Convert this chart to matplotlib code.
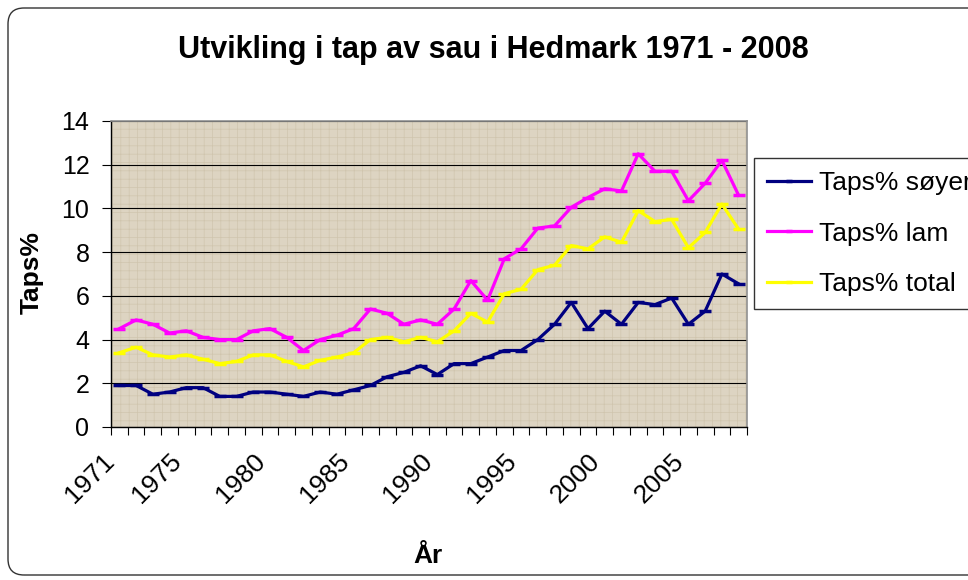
import matplotlib
matplotlib.use("Agg")
import matplotlib.pyplot as plt
from matplotlib.patches import FancyBboxPatch, Rectangle
from matplotlib.transforms import IdentityTransform

plt.rcParams['font.family'] = ['Liberation Sans', 'DejaVu Sans']
plt.rcParams['hatch.linewidth'] = 0.5

# data
years = list(range(1971, 2009))
soyer = [1.9, 1.9, 1.5, 1.6, 1.8, 1.8, 1.4, 1.4, 1.6, 1.6,
         1.5, 1.4, 1.6, 1.5, 1.7, 1.9, 2.3, 2.5, 2.8, 2.4,
         2.9, 2.9, 3.2, 3.5, 3.5, 4.0, 4.7, 5.7, 4.5, 5.3,
         4.7, 5.7, 5.6, 5.9, 4.7, 5.3, 7.0, 6.55]
lam = [4.5, 4.9, 4.7, 4.3, 4.4, 4.1, 4.0, 4.0, 4.4, 4.5,
       4.1, 3.5, 4.0, 4.2, 4.5, 5.4, 5.2, 4.7, 4.9, 4.7,
       5.4, 6.7, 5.8, 7.7, 8.15, 9.1, 9.2, 10.05, 10.5, 10.9,
       10.8, 12.5, 11.7, 11.7, 10.35, 11.15, 12.2, 10.6]
total = [3.4, 3.65, 3.3, 3.2, 3.3, 3.1, 2.9, 3.0, 3.3, 3.3,
         3.0, 2.75, 3.05, 3.2, 3.4, 4.0, 4.1, 3.9, 4.1, 3.9,
         4.4, 5.2, 4.8, 6.1, 6.3, 7.2, 7.4, 8.3, 8.15, 8.7,
         8.45, 9.9, 9.4, 9.5, 8.2, 8.9, 10.2, 9.05]
label_years = [1971, 1975, 1980, 1985, 1990, 1995, 2000, 2005]
names = ["Taps% søyer", "Taps% lam", "Taps% total"]
colors = ["#000080", "#ff00ff", "#ffff00"]

fig = plt.figure(figsize=(9.68, 5.8), dpi=100)
ax = fig.add_axes([111/968, 1-427/580, (747-111)/968, (427-121)/580])
ax.set_facecolor("#ddd4c2")
# canvas-like texture for the plot area
ax.add_patch(Rectangle((0, 0), 1, 1, transform=ax.transAxes, facecolor="none",
                       edgecolor="#d0c5ae", hatch="++", lw=0, zorder=0))

# rounded chart frame
frame = FancyBboxPatch((8, 5), 977, 567, boxstyle="round,pad=0,rounding_size=16",
                       transform=IdentityTransform(), facecolor="none",
                       edgecolor="#333333", linewidth=1)
fig.patches.append(frame)

lines = []
for vals, name, col in zip([soyer, lam, total], names, colors):
    ln, = ax.plot(years, vals, color=col, lw=2.3, marker="_", ms=8, mew=2.5, label=name)
    lines.append(ln)

ax.set_xlim(1970.5, 2008.5)
ax.set_ylim(0, 14)
ax.set_yticks(range(0, 15, 2))
ax.grid(axis="y", color="black", lw=0.8)
ax.set_axisbelow(True)

ax.set_xticks(label_years)
ax.set_xticklabels([str(y) for y in label_years], rotation=45, ha="right", va="top")
ax.set_xticks([y + 0.5 for y in range(1970, 2009)], minor=True)
ax.tick_params(axis="x", which="major", length=0, pad=16, labelsize=19)
ax.tick_params(axis="x", which="minor", length=6, width=0.8, direction="out")
ax.tick_params(axis="y", length=6.5, width=0.8, pad=9, labelsize=18)

for s in ["top", "right"]:
    ax.spines[s].set_color("#909090")
    ax.spines[s].set_linewidth(1.2)
for s in ["left", "bottom"]:
    ax.spines[s].set_color("black")
    ax.spines[s].set_linewidth(1)

fig.text(493/968, 1-58/580, "Utvikling i tap av sau i Hedmark 1971 - 2008",
         ha="center", va="baseline", fontsize=22, fontweight="bold")
fig.text(32/968, 1-273/580, "Taps%", rotation=90, ha="center", va="center",
         fontsize=19, fontweight="bold")
fig.text(428/968, 1-563/580, "År", ha="center", va="baseline",
         fontsize=19, fontweight="bold")

leg = fig.legend(handles=lines, loc="upper left", bbox_to_anchor=(754/968, 1-158/580),
                 borderaxespad=0, fontsize=19, frameon=True, fancybox=False,
                 edgecolor="black", handlelength=1.65, handletextpad=0.3,
                 labelspacing=1.0, borderpad=0.5, numpoints=1)
leg.get_frame().set_linewidth(1)
for h in leg.legend_handles:
    h.set_markersize(5)

fig.savefig("out.png", dpi=100)
